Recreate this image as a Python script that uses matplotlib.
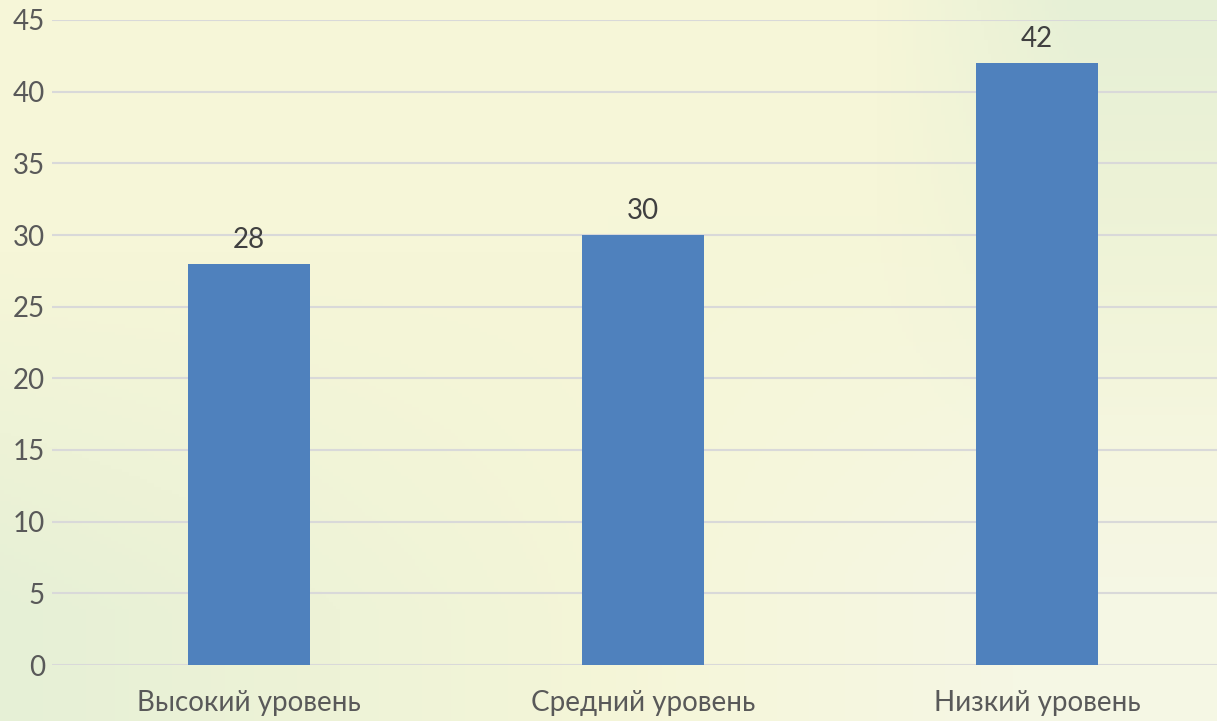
import numpy as np
import matplotlib
matplotlib.use("Agg")
import matplotlib.pyplot as plt

categories = ["Высокий уровень", "Средний уровень", "Низкий уровень"]
values = [28, 30, 42]
yticks = [0, 5, 10, 15, 20, 25, 30, 35, 40, 45]

plt.rcParams['font.family'] = ['Lato', 'DejaVu Sans']

W, H = 1217, 721
fig = plt.figure(figsize=(W / 100, H / 100), dpi=100)

# background gradient
bg = fig.add_axes([0, 0, 1, 1], zorder=-10)
yy, xx = np.mgrid[0:1:200j, 0:1:340j]
cream = np.array([246, 246, 216]) / 255
green = np.array([230, 240, 214]) / 255
light = np.array([245, 247, 228]) / 255
t_green_ll = np.clip((yy - 0.35) * 2.0, 0, 1) * np.clip(1 - xx * 1.8, 0, 1)
t_green_ur = np.clip((xx - 0.72) * 6, 0, 1) * np.clip(1 - yy * 1.6, 0, 1)
t_light = np.clip((xx - 0.5) * 3, 0, 1) * np.clip((yy - 0.3) * 2, 0, 1)
img = cream[None, None, :] * np.ones_like(xx)[..., None]
img = img * (1 - t_light[..., None]) + light * t_light[..., None]
tg = np.clip(t_green_ll + t_green_ur, 0, 1)[..., None]
img = img * (1 - tg) + green * tg
bg.imshow(img, aspect='auto', extent=[0, 1, 0, 1], origin='upper')
bg.axis('off')

ax = fig.add_axes([52 / W, 56 / H, 1182 / W, 645 / H])
ax.patch.set_alpha(0)
x = np.arange(len(categories))
ax.bar(x, values, width=0.31, color='#4f81bd', zorder=3)
ax.set_xlim(-0.5, 2.5)
ax.set_ylim(0, 45)
ax.set_yticks(yticks)
ax.yaxis.grid(True, color='#d9d9d9', linewidth=1.5, zorder=0)
ax.set_axisbelow(True)
for s in ax.spines.values():
    s.set_visible(False)
ax.tick_params(axis='both', length=0, labelsize=20, colors='#595959')
ax.tick_params(axis='y', pad=5)
ax.tick_params(axis='x', pad=18)
ax.set_xticks(x)
ax.set_xticklabels(categories)
for xi, v in zip(x, values):
    ax.annotate(str(v), (xi, v), xytext=(0, 8), textcoords='offset points',
                ha='center', va='bottom', fontsize=20, color='#404040')

fig.savefig("out.png", dpi=100)
